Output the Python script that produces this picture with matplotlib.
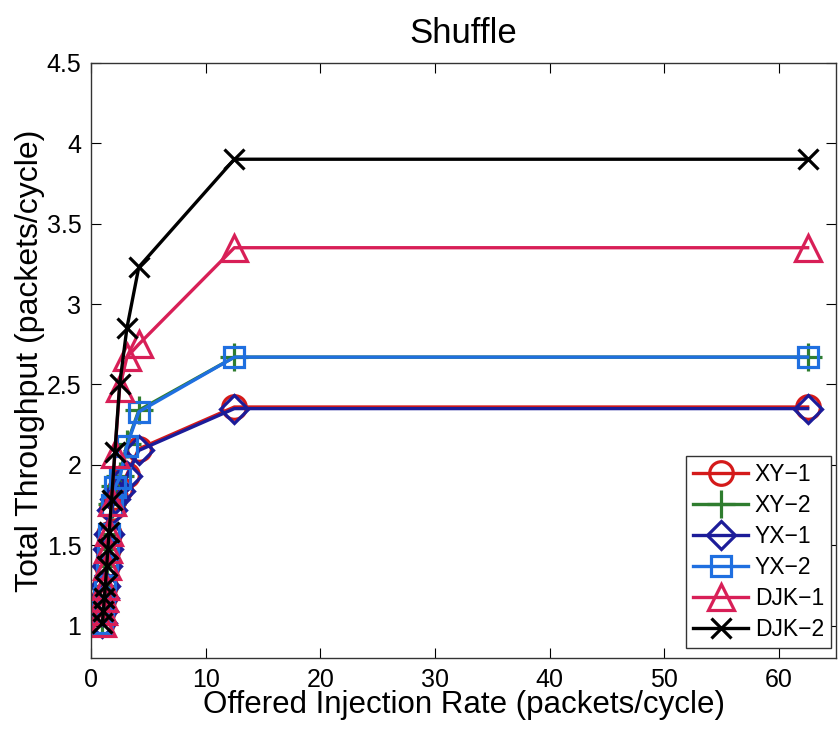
import numpy as np
import matplotlib
matplotlib.use("Agg")
import matplotlib.pyplot as plt
from matplotlib.ticker import FormatStrFormatter

plt.rcParams['font.family'] = ['Liberation Sans', 'DejaVu Sans']

# offered injection rate (packets/cycle), shared by all runs
rate = [1.0, 1.08, 1.16, 1.25, 1.37, 1.47, 1.58, 1.79, 2.08, 2.5, 3.13, 4.17, 12.5, 62.5]

# total throughput (packets/cycle)
xy1 = [1.02, 1.09, 1.17, 1.25, 1.37, 1.48, 1.57, 1.73, 1.80, 1.85, 1.94, 2.10, 2.36, 2.36]
xy2 = [1.02, 1.09, 1.17, 1.25, 1.37, 1.48, 1.57, 1.76, 1.87, 1.93, 2.13, 2.34, 2.67, 2.67]
yx1 = [1.02, 1.09, 1.17, 1.25, 1.37, 1.48, 1.57, 1.72, 1.79, 1.84, 1.93, 2.09, 2.35, 2.35]
yx2 = [1.02, 1.09, 1.17, 1.25, 1.37, 1.48, 1.57, 1.75, 1.86, 1.92, 2.12, 2.33, 2.67, 2.67]
djk1 = [1.02, 1.09, 1.17, 1.25, 1.37, 1.48, 1.58, 1.77, 2.07, 2.48, 2.67, 2.75, 3.35, 3.35]
djk2 = [1.02, 1.09, 1.17, 1.25, 1.37, 1.48, 1.58, 1.78, 2.08, 2.50, 2.85, 3.23, 3.90, 3.90]

series = [
    ("XY\u22121", xy1, "#d41a1a", "o", 17),
    ("XY\u22122", xy2, "#2f7d2f", "+", 20),
    ("YX\u22121", yx1, "#1c1c99", "D", 14),
    ("YX\u22122", yx2, "#1f6fe0", "s", 15),
    ("DJK\u22121", djk1, "#d81f57", "^", 19),
    ("DJK\u22122", djk2, "#000000", "x", 15),
]

fig = plt.figure(figsize=(8.38, 7.29), dpi=100)
ax = fig.add_axes([0.1086, 0.0974, 0.8894, 0.8166])

for name, vals, col, mk, ms in series:
    ax.plot(rate, vals, color=col, marker=mk, markersize=ms, linewidth=2.4,
            markerfacecolor='none', markeredgewidth=2.3, label=name)

ax.set_xlim(0, 65)
ax.set_ylim(0.8, 4.5)
ax.set_xticks([0, 10, 20, 30, 40, 50, 60])
ax.set_yticks([1, 1.5, 2, 2.5, 3, 3.5, 4, 4.5])
ax.yaxis.set_major_formatter(FormatStrFormatter('%g'))
ax.tick_params(direction='in', length=7, top=True, right=True, labelsize=18, pad=7)
for sp in ax.spines.values():
    sp.set_color('#333333')
    sp.set_linewidth(1.0)

ax.set_title("Shuffle", fontsize=25, pad=14)
ax.set_xlabel("Offered Injection Rate (packets/cycle)", fontsize=22.5, labelpad=-1)
ax.set_ylabel("Total Throughput (packets/cycle)", fontsize=23, labelpad=1)

leg = ax.legend(loc='lower right', bbox_to_anchor=(0.993, 0.017), fontsize=16.5,
                fancybox=False, framealpha=1, edgecolor='#333333',
                handlelength=2.4, handletextpad=0.3, borderpad=0.3,
                labelspacing=0.35, borderaxespad=0)
leg.get_frame().set_linewidth(1.0)

fig.savefig("out.png", dpi=100)
